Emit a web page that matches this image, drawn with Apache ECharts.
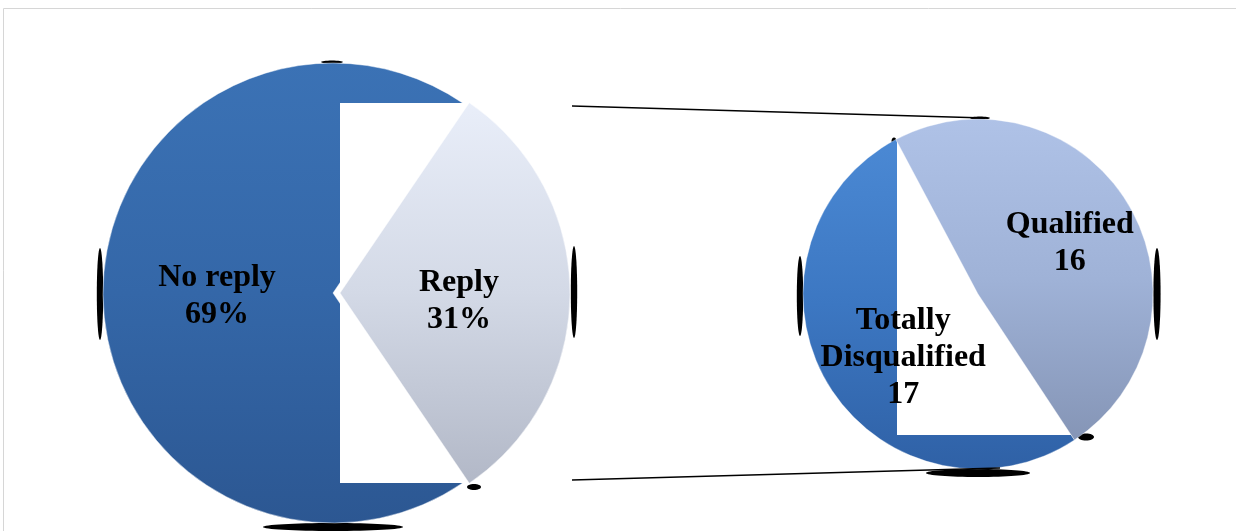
<!DOCTYPE html>
<html>
<head>
<meta charset="utf-8">
<script src="https://cdn.jsdelivr.net/npm/echarts@6/dist/echarts.min.js"></script>
<style>
  html, body { margin: 0; padding: 0; background: #ffffff; }
  #chart { width: 1236px; height: 531px; }
</style>
</head>
<body>
<div id="chart"></div>
<script>
// Survey responses (main pie) and breakdown of the replies (secondary pie)
const replyCategories = ['No reply', 'Reply'];
const replyValues = [69, 31];
const outcomeCategories = ['Qualified', 'Totally Disqualified'];
const outcomeValues = [16, 17];

// Geometry of the two pies
const mainPie = { cx: 333, cy: 293, r: 230 };
const subPie = { cx: 978, cy: 294, r: 175 };

const chart = echarts.init(document.getElementById('chart'), null, { renderer: 'canvas' });

function vGrad(stops) {
  return {
    type: 'linear', x: 0, y: 0, x2: 0, y2: 1,
    colorStops: stops.map(function (c, i) { return { offset: i / (stops.length - 1), color: c }; })
  };
}

const colNoReply = vGrad(['#3b72b5', '#3467a8', '#2c5792']);
const colReply = vGrad(['#e9eef9', '#d3d9e6', '#b2b8c7']);
const colQualified = vGrad(['#afc2e7', '#9fb2d7', '#8595b6']);
const colDisq = vGrad(['#4b89d4', '#3c77c2', '#2f61a6']);
const clear = 'rgba(0,0,0,0)';

// Reply slice is centred on the right-hand side of the main pie
const replyShare = replyValues[1] / (replyValues[0] + replyValues[1]);
const mainStart = 360 - replyShare * 180;
const subStart = 118;

const labelStyle = {
  show: true,
  position: 'inside',
  color: '#000',
  fontFamily: 'Liberation Serif, Times New Roman, serif',
  fontWeight: 'bold',
  fontSize: 32,
  lineHeight: 37
};

function mainData(layer) {
  return replyCategories.map(function (name, i) {
    const isReply = i === 1;
    let color;
    if (layer === 'base') color = isReply ? clear : colNoReply;
    else color = isReply ? colReply : clear;
    const item = {
      name: name,
      value: replyValues[i],
      itemStyle: {
        color: color,
        borderColor: color === clear ? clear : 'rgba(255,255,255,0.45)',
        borderWidth: color === clear ? 0 : 1
      }
    };
    if (isReply) item.selected = true;
    return item;
  });
}

function subData(layer) {
  return outcomeCategories.map(function (name, i) {
    const isQualified = i === 0;
    let color;
    if (layer === 'base') color = isQualified ? clear : colDisq;
    else color = isQualified ? colQualified : clear;
    return {
      name: name,
      value: outcomeValues[i],
      itemStyle: {
        color: color,
        borderColor: color === clear ? clear : 'rgba(255,255,255,0.35)',
        borderWidth: color === clear ? 0 : 1
      }
    };
  });
}

const basePie = {
  type: 'pie',
  silent: true,
  animation: false,
  avoidLabelOverlap: false,
  label: { show: false },
  labelLine: { show: false },
  emphasis: { disabled: true }
};

// Small dark shadow marks at the rims of both pies
const rimMarks = [
  { cx: mainPie.cx - mainPie.r - 3, cy: mainPie.cy + 1, rx: 3.2, ry: 46 },
  { cx: mainPie.cx + mainPie.r + 7 + 4, cy: mainPie.cy - 1, rx: 3.2, ry: 46 },
  { cx: mainPie.cx - 1, cy: mainPie.cy - mainPie.r - 1, rx: 11, ry: 1.6 },
  { cx: mainPie.cx, cy: mainPie.cy + mainPie.r + 4, rx: 70, ry: 4 },
  { cx: subPie.cx - subPie.r - 3, cy: subPie.cy + 2, rx: 3.2, ry: 40 },
  { cx: subPie.cx + subPie.r + 4, cy: subPie.cy, rx: 3.6, ry: 46 },
  { cx: subPie.cx + 2, cy: subPie.cy - subPie.r - 1, rx: 10, ry: 1.6 },
  { cx: subPie.cx, cy: subPie.cy + subPie.r + 4, rx: 52, ry: 4 },
  { cx: 474, cy: 487, rx: 7, ry: 3 },
  { cx: 1086, cy: 437, rx: 8, ry: 3.5 },
  { cx: 894, cy: 141, rx: 2.5, ry: 3.5 }
];

const graphics = [
  {
    type: 'rect', z: 0, silent: true,
    shape: { x: 3.5, y: 8.5, width: 1240, height: 530 },
    style: { fill: null, stroke: '#d6d6d6', lineWidth: 1 }
  },
  // White panels behind the highlighted slices
  {
    type: 'rect', z: 3, silent: true,
    shape: { x: 340, y: 103, width: 140, height: 380 },
    style: { fill: '#ffffff' }
  },
  {
    type: 'rect', z: 3, silent: true,
    shape: { x: 897, y: 140, width: 183, height: 295 },
    style: { fill: '#ffffff' }
  },
  // Connector lines between the pies
  {
    type: 'line', z: 6, silent: true,
    shape: { x1: 572, y1: 106, x2: 985, y2: 118 },
    style: { stroke: '#000', lineWidth: 1.5 }
  },
  {
    type: 'line', z: 6, silent: true,
    shape: { x1: 572, y1: 480, x2: 1000, y2: 468 },
    style: { stroke: '#000', lineWidth: 1.5 }
  }
].concat(rimMarks.map(function (m) {
  return {
    type: 'ellipse', z: 1, silent: true,
    shape: { cx: m.cx, cy: m.cy, rx: m.rx, ry: m.ry },
    style: { fill: '#000' }
  };
}));

const mainLabelShift = [{ dx: 2, dy: 3 }, { dx: 1, dy: 8 }];
const subLabelShift = [{ dx: 14, dy: -5 }, { dx: 3, dy: 17 }];

const option = {
  backgroundColor: '#ffffff',
  animation: false,
  graphic: graphics,
  series: [
    Object.assign({}, basePie, {
      z: 1,
      center: [mainPie.cx, mainPie.cy],
      radius: mainPie.r,
      startAngle: mainStart,
      selectedMode: 'single',
      selectedOffset: 7,
      data: mainData('base')
    }),
    Object.assign({}, basePie, {
      z: 1,
      center: [subPie.cx, subPie.cy],
      radius: subPie.r,
      startAngle: subStart,
      data: subData('base')
    }),
    Object.assign({}, basePie, {
      z: 5,
      center: [mainPie.cx, mainPie.cy],
      radius: mainPie.r,
      startAngle: mainStart,
      selectedMode: 'single',
      selectedOffset: 7,
      label: Object.assign({}, labelStyle, { formatter: '{b}\n{d}%' }),
      labelLayout: function (p) { return mainLabelShift[p.dataIndex]; },
      data: mainData('top')
    }),
    Object.assign({}, basePie, {
      z: 5,
      center: [subPie.cx, subPie.cy],
      radius: subPie.r,
      startAngle: subStart,
      label: Object.assign({}, labelStyle, {
        formatter: function (p) { return p.name.replace(' ', '\n') + '\n' + p.value; }
      }),
      labelLayout: function (p) { return subLabelShift[p.dataIndex]; },
      data: subData('top')
    })
  ]
};

chart.setOption(option);
</script>
</body>
</html>
